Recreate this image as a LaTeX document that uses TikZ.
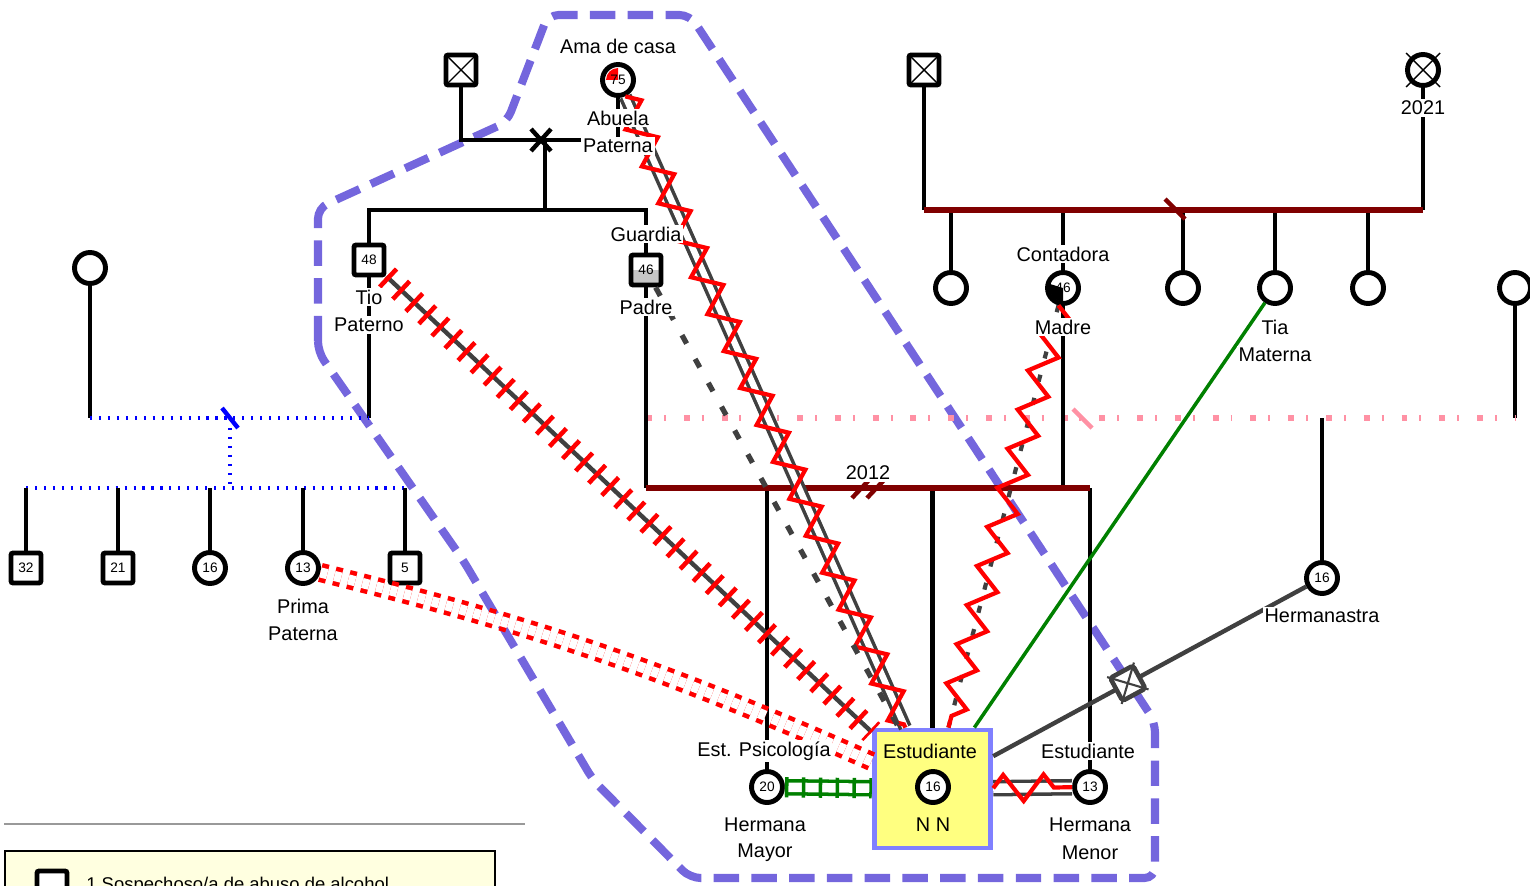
\documentclass[tikz,border=0pt]{standalone}
\usepackage{fontspec}
\setmainfont{Liberation Sans}
\usetikzlibrary{decorations.pathmorphing,calc}
\definecolor{wine}{HTML}{800000}
\definecolor{household}{HTML}{7466DD}
\definecolor{egoedge}{HTML}{8080FF}
\definecolor{egofill}{HTML}{FFFF80}
\definecolor{rosy}{HTML}{FF91A4}
\definecolor{slate}{HTML}{404040}
\definecolor{leaf}{HTML}{008000}
\definecolor{cream}{HTML}{FFFFE0}
\tikzset{
  male/.style={rectangle,draw,line width=2.8pt,fill=white,minimum size=0.6cm,inner sep=0pt,rounded corners=1.2pt,font=\fontsize{7.8}{8}\selectfont},
  female/.style={circle,draw,line width=2.8pt,fill=white,minimum size=0.62cm,inner sep=0pt,font=\fontsize{7.8}{8}\selectfont},
  deceased/.style={path picture={\draw[line width=0.8pt] (path picture bounding box.south west) -- (path picture bounding box.north east) (path picture bounding box.north west) -- (path picture bounding box.south east);}},
  redquarter/.style={path picture={\fill[red] (path picture bounding box.center) -- ++(0,-12) arc[start angle=270,end angle=180,radius=12] -- cycle;}},
  blackquarter/.style={path picture={\fill[black] (path picture bounding box.center) -- ++(-13,-4) arc[start angle=197,end angle=90,radius=13.6] -- cycle;}},
  halfgray/.style={path picture={\fill[gray!45] (path picture bounding box.west) rectangle (path picture bounding box.south east);}},
  egobox/.style={rectangle,draw=egoedge,fill=egofill,line width=2.8pt,minimum width=2.33cm,minimum height=2.36cm,inner sep=0pt},
  tag/.style={fill=white,inner sep=1pt,font=\fontsize{11.3}{13}\selectfont},
  kin/.style={line width=2.5pt},
  wed/.style={wine,line width=3pt},
  dotwed/.style={blue,line width=2.8pt,dash pattern=on 1.2pt off 3.9pt},
  rosewed/.style={rosy,line width=3pt,dash pattern=on 3.4pt off 6.8pt on 1.1pt off 10.2pt},
  homezone/.style={household,line width=4.6pt,dash pattern=on 14.5pt off 7pt,rounded corners=6pt},
  hostile/.style={red,line width=2.4pt,decorate,decoration={zigzag,segment length=23pt,amplitude=7.5pt}},
  pairgray/.style={slate,line width=2pt,double=white,double distance=3.6pt},
  pairwide/.style={slate,line width=2pt,double=white,double distance=5.4pt},
  pairgreen/.style={leaf,line width=2pt,double=white,double distance=5.4pt},
  greenticks/.style={leaf,line width=11.5pt,dash pattern=on 2pt off 7.6pt},
  plain/.style={slate,line width=2.5pt},
  redticks/.style={red,line width=14pt,dash pattern=on 2.6pt off 7.6pt},
  distant/.style={slate,line width=3pt,dash pattern=on 5.5pt off 10pt},
  faint/.style={slate,line width=2.4pt,dash pattern=on 4pt off 9.6pt},
  conflict/.style={red,line width=2.6pt,dash pattern=on 4pt off 4.2pt,double=white,double distance=5.8pt},
  affect/.style={leaf,line width=2pt},
  cutoff/.style={rectangle,draw=slate,fill=white,line width=2.6pt,minimum size=0.52cm,inner sep=0pt,rounded corners=1.5pt}
}

\begin{document}
\begin{tikzpicture}[x=0.02cm,y=-0.02cm]
  \useasboundingbox (0,0) rectangle (1530,885);
  \clip (0,0) rectangle (1530,885);

  \draw[homezone] (318,352) -- (318,208) -- (507,122) -- (548,15) -- (690,15) -- (1155,722) -- (1155,878) -- (690,878) -- (593,780) -- (463,560) -- cycle;

  % paternal side
  \node[male,deceased] (abuelo) at (461,70) {};
  \node[female,redquarter] (abuela) at (618,80) {75};
  \node[male] (tio) at (369,260) {48};
  \node[male,halfgray] (padre) at (646,270) {46};
  \node[female] (pareja1) at (90,268) {};
  \node[male] (p32) at (26,568) {32};
  \node[male] (p21) at (118,568) {21};
  \node[female] (p16) at (210,568) {16};
  \node[female] (prima) at (303,568) {13};
  \node[male] (p5) at (405,568) {5};

  % maternal side
  \node[male,deceased] (abuelom) at (924,70) {};
  \node[female] (abuelam) at (1423,70) {};
  \node[female] (tm1) at (951,288) {};
  \node[female,blackquarter] (madre) at (1063,288) {46};
  \node[female] (tm2) at (1183,288) {};
  \node[female] (tia) at (1275,288) {};
  \node[female] (tm3) at (1368,288) {};
  \node[female] (pareja2) at (1515,288) {};
  \node[female] (hermanastra) at (1322,578) {16};

  % siblings
  \node[egobox] (ego) at (932.5,789) {};
  \node[female] (nn) at (933,787) {16};
  \node[female] (mayor) at (767,787) {20};
  \node[female] (menor) at (1090,787) {13};

  \draw[line width=0.8pt] ($(abuelam)+(-17,-17)$) -- ($(abuelam)+(17,17)$) ($(abuelam)+(-17,17)$) -- ($(abuelam)+(17,-17)$);

  \coordinate (wedp) at (541,140);
  \coordinate (sibp) at (545,210);
  \coordinate (wedtio) at (230,418);
  \coordinate (kidsl) at (230,488);
  \coordinate (wedpar) at (868,488);
  \coordinate (wedros) at (1083,418);
  \coordinate (wedmat) at (1175,210);

  \draw[kin] (abuelo) |- (abuela |- wedp) -- (abuela);
  \draw[line width=2.5pt] ($(wedp)+(-10,-11)$) -- ($(wedp)+(10,11)$) ($(wedp)+(-10,11)$) -- ($(wedp)+(10,-11)$);
  \draw[kin] (sibp |- wedp) -- (sibp);
  \draw[kin] (tio) |- (sibp) -| (padre);

  \draw[kin] (tio) -- (tio |- wedtio);
  \draw[kin] (pareja1) -- (pareja1 |- wedtio);
  \draw[dotwed] (pareja1 |- wedtio) -- (tio |- wedtio);
  \draw[blue,line width=2.5pt] ($(wedtio)+(-8,-10)$) -- ($(wedtio)+(8,10)$);
  \draw[dotwed] ($(wedtio)+(0,10)$) -- (kidsl);
  \draw[dotwed] (p32 |- kidsl) -- (p5 |- kidsl);
  \foreach \k in {p32,p21,p16,prima,p5}
    \draw[kin] (\k) -- (\k |- kidsl);

  \draw[kin] (abuelom) -- (abuelom |- wedmat);
  \draw[kin] (abuelam) -- (abuelam |- wedmat);
  \foreach \k in {tm1,madre,tm2,tia,tm3}
    \draw[kin] (\k) -- (\k |- wedmat);
  \draw[wed] (abuelom |- wedmat) -- (abuelam |- wedmat);
  \draw[wine,line width=2.5pt] ($(wedmat)+(-10,-11)$) -- ($(wedmat)+(10,9)$);

  \draw[kin] (pareja2) -- (pareja2 |- wedros);
  \draw[kin] (hermanastra) -- (hermanastra |- wedros);
  \draw[rosewed] (padre |- wedros) -- (pareja2 |- wedros);
  \draw[rosy,line width=2.5pt] ($(wedros)+(-10,-9)$) -- ($(wedros)+(9,10)$);

  \draw[kin] (padre) -- (padre |- wedpar);
  \draw[kin] (madre) -- (madre |- wedpar);
  \foreach \k in {mayor,ego,menor}
    \draw[kin] (\k) -- (\k |- wedpar);
  \draw[wed] (padre |- wedpar) -- (menor |- wedpar);
  \draw[wine,line width=2.5pt] ($(wedpar)+(-16,10)$) -- ($(wedpar)+(2,-9)$) ($(wedpar)+(-1,10)$) -- ($(wedpar)+(17,-9)$);

  % relations with the student
  \draw[pairgray] (abuela) -- (ego);
  \draw[hostile] (abuela) -- (ego);
  \draw[plain] (tio) -- (ego);
  \draw[redticks] (tio) -- (ego);
  \draw[distant] (padre) -- (ego);
  \draw[faint] (madre) -- (ego);
  \draw[hostile] (madre) -- (ego);
  \draw[affect] (tia) -- (ego);
  \draw[conflict] (prima) to[bend left=5] (ego);
  \draw[pairgreen] (mayor) -- (ego);
  \draw[greenticks] (mayor) -- (ego);
  \draw[pairwide] (ego) -- (menor);
  \draw[hostile] (ego) -- (menor);
  \draw[plain] (hermanastra) -- node[cutoff,sloped,pos=0.57] (corte) {} (ego);
  \draw[slate,line width=1.2pt] (corte.north west) -- (corte.south east) (corte.north east) -- (corte.south west);

  % labels
  \node[tag] (lama) at (618,46) {Ama de casa};
  \node[tag] (labu1) at (618,118) {Abuela};
  \node[tag] (labu2) at (618,146) {Paterna};
  \node[tag] (lgua) at (646,234) {Guardia};
  \node[tag] (lpad) at (646,307) {Padre};
  \node[tag] (ltio1) at (369,297) {Tio};
  \node[tag] (ltio2) at (369,325) {Paterno};
  \node[tag] (lpri1) at (303,606) {Prima};
  \node[tag] (lpri2) at (303,634) {Paterna};
  \node[tag] (lano) at (1423,108) {2021};
  \node[tag] (lcon) at (1063,254) {Contadora};
  \node[tag] (lmad) at (1063,327) {Madre};
  \node[tag] (ltia1) at (1275,327) {Tia};
  \node[tag] (ltia2) at (1275,355) {Materna};
  \node[tag] (lhst) at (1322,616) {Hermanastra};
  \node[tag] (ldiv) at (868,473) {2012};
  \node[tag] (lmay0) at (764,751) {Est. Psicología};
  \node[tag] (lmay1) at (765,825) {Hermana};
  \node[tag] (lmay2) at (765,853) {Mayor};
  \node[tag] (lmen0) at (1088,751) {Estudiante};
  \node[tag] (lmen1) at (1090,825) {Hermana};
  \node[tag] (lmen2) at (1090,853) {Menor};
  \node[font=\fontsize{11.3}{13}\selectfont] (lego1) at (930,751) {Estudiante};
  \node[font=\fontsize{11.3}{13}\selectfont] (lego2) at (933,825) {N N};

  % legend
  \draw[gray!80,line width=1.2pt] (4,824) -- (525,824);
  \draw[fill=cream,line width=0.9pt] (5,851) rectangle (495,900);
  \node[male] (legsq) at (52,886) {};
  \node[anchor=base west,inner sep=0pt,font=\fontsize{10.5}{12}\selectfont] (legtxt) at (86,890) {1 Sospechoso/a de abuso de alcohol};
\end{tikzpicture}
\end{document}
